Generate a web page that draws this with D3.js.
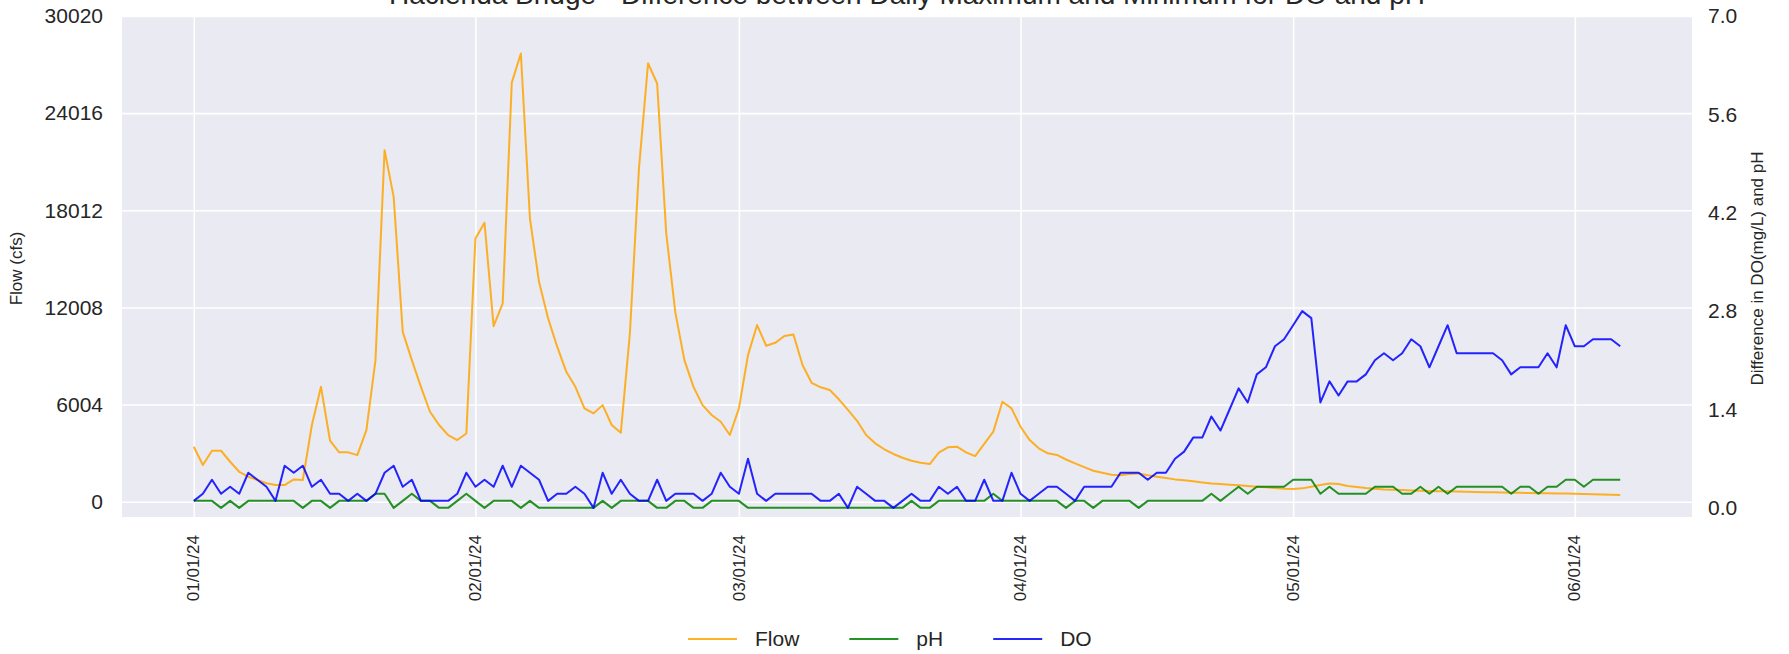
<!DOCTYPE html>
<html>
<head>
<meta charset="utf-8">
<script src="https://cdn.jsdelivr.net/npm/d3@7"></script>
<style>
  html, body { margin: 0; padding: 0; background: #fff; }
  svg { display: block; font-family: "Liberation Sans", Arial, Helvetica, sans-serif; }
</style>
</head>
<body>
<div id="chart"></div>
<script>
// ---- data (daily values) ----
const TITLE = 'Hacienda Bridge - Difference between Daily Maximum and Minimum for DO and pH'
const START_DATE = '2024-01-01'

const flow = [
  3400, 2270, 3150, 3150, 2470, 1850, 1545, 1340, 1140, 1030,
  1030, 1380, 1340, 4740, 7100, 3770, 3050, 3050, 2880, 4430,
  8750, 21730, 18840, 10500, 8750, 7100, 5560, 4740, 4120, 3810,
  4220, 16270, 17240, 10850, 12260, 25900, 27700, 17500, 13590, 11330,
  9580, 8030, 7100, 5770, 5460, 5970, 4740, 4260, 10400, 20600,
  27100, 25850, 16600, 11700, 8750, 7100, 5970, 5360, 4940, 4120,
  5770, 9060, 10920, 9640, 9820, 10240, 10340, 8450, 7350, 7070,
  6900, 6330, 5670, 5000, 4120, 3610, 3240, 2950, 2720, 2530,
  2410, 2330, 3030, 3360, 3400, 3050, 2820, 3570, 4330, 6180,
  5770, 4630, 3810, 3300, 2990, 2890, 2610, 2370, 2140, 1915,
  1790, 1670, 1630, 1710, 1750, 1630, 1545, 1460, 1380, 1320,
  1260, 1190, 1130, 1090, 1050, 1010, 970, 930, 890, 845,
  805, 785, 825, 930, 1030, 1130, 1090, 970, 905, 845,
  805, 760, 740, 720, 700, 680, 660, 650, 640, 625,
  615, 600, 590, 580, 570, 560, 550, 540, 530, 520,
  510, 500, 490, 475, 460, 450, 435, 420
]

const ph = [
  0.1, 0.1, 0.1, 0.0, 0.1, 0.0, 0.1, 0.1, 0.1, 0.1,
  0.1, 0.1, 0.0, 0.1, 0.1, 0.0, 0.1, 0.1, 0.1, 0.1,
  0.2, 0.2, 0.0, 0.1, 0.2, 0.1, 0.1, 0.0, 0.0, 0.1,
  0.2, 0.1, 0.0, 0.1, 0.1, 0.1, 0.0, 0.1, 0.0, 0.0,
  0.0, 0.0, 0.0, 0.0, 0.0, 0.1, 0.0, 0.1, 0.1, 0.1,
  0.1, 0.0, 0.0, 0.1, 0.1, 0.0, 0.0, 0.1, 0.1, 0.1,
  0.1, 0.0, 0.0, 0.0, 0.0, 0.0, 0.0, 0.0, 0.0, 0.0,
  0.0, 0.0, 0.0, 0.0, 0.0, 0.0, 0.0, 0.0, 0.0, 0.1,
  0.0, 0.0, 0.1, 0.1, 0.1, 0.1, 0.1, 0.1, 0.2, 0.1,
  0.1, 0.1, 0.1, 0.1, 0.1, 0.1, 0.0, 0.1, 0.1, 0.0,
  0.1, 0.1, 0.1, 0.1, 0.0, 0.1, 0.1, 0.1, 0.1, 0.1,
  0.1, 0.1, 0.2, 0.1, 0.2, 0.3, 0.2, 0.3, 0.3, 0.3,
  0.3, 0.4, 0.4, 0.4, 0.2, 0.3, 0.2, 0.2, 0.2, 0.2,
  0.3, 0.3, 0.3, 0.2, 0.2, 0.3, 0.2, 0.3, 0.2, 0.3,
  0.3, 0.3, 0.3, 0.3, 0.3, 0.2, 0.3, 0.3, 0.2, 0.3,
  0.3, 0.4, 0.4, 0.3, 0.4, 0.4, 0.4, 0.4
]

const dissolvedOxygen = [
  0.1, 0.2, 0.4, 0.2, 0.3, 0.2, 0.5, 0.4, 0.3, 0.1,
  0.6, 0.5, 0.6, 0.3, 0.4, 0.2, 0.2, 0.1, 0.2, 0.1,
  0.2, 0.5, 0.6, 0.3, 0.4, 0.1, 0.1, 0.1, 0.1, 0.2,
  0.5, 0.3, 0.4, 0.3, 0.6, 0.3, 0.6, 0.5, 0.4, 0.1,
  0.2, 0.2, 0.3, 0.2, 0.0, 0.5, 0.2, 0.4, 0.2, 0.1,
  0.1, 0.4, 0.1, 0.2, 0.2, 0.2, 0.1, 0.2, 0.5, 0.3,
  0.2, 0.7, 0.2, 0.1, 0.2, 0.2, 0.2, 0.2, 0.2, 0.1,
  0.1, 0.2, 0.0, 0.3, 0.2, 0.1, 0.1, 0.0, 0.1, 0.2,
  0.1, 0.1, 0.3, 0.2, 0.3, 0.1, 0.1, 0.4, 0.1, 0.1,
  0.5, 0.2, 0.1, 0.2, 0.3, 0.3, 0.2, 0.1, 0.3, 0.3,
  0.3, 0.3, 0.5, 0.5, 0.5, 0.4, 0.5, 0.5, 0.7, 0.8,
  1.0, 1.0, 1.3, 1.1, 1.4, 1.7, 1.5, 1.9, 2.0, 2.3,
  2.4, 2.6, 2.8, 2.7, 1.5, 1.8, 1.6, 1.8, 1.8, 1.9,
  2.1, 2.2, 2.1, 2.2, 2.4, 2.3, 2.0, 2.3, 2.6, 2.2,
  2.2, 2.2, 2.2, 2.2, 2.1, 1.9, 2.0, 2.0, 2.0, 2.2,
  2.0, 2.6, 2.3, 2.3, 2.4, 2.4, 2.4, 2.3
]

const flowTicks = [0, 6004, 12008, 18012, 24016, 30020]
const diffTicks = [0, 1.4, 2.8, 4.2, 5.6, 7.0]
const seriesNames = ['Flow', 'pH', 'DO']
const seriesColors = ['#FFA500', '#008000', '#0000FF']

// ---- layout ----
const WIDTH = 1789
const HEIGHT = 654
const MARGIN = { top: 16, right: 97, bottom: 137, left: 122 }
const innerW = WIDTH - MARGIN.left - MARGIN.right
const innerH = HEIGHT - MARGIN.top - MARGIN.bottom
const TEXT = '#262626'

const start = d3.utcParse('%Y-%m-%d')(START_DATE)
const dates = flow.map((_, i) => d3.utcDay.offset(start, i))
const rows = dates.map((d, i) => ({ date: d, flow: flow[i], ph: ph[i], do: dissolvedOxygen[i] }))

const svg = d3.select('#chart')
  .append('svg')
  .attr('width', WIDTH)
  .attr('height', HEIGHT)

const g = svg.append('g')
  .attr('transform', `translate(${MARGIN.left},${MARGIN.top})`)

// x scale with a small margin either side, like matplotlib
const pad = 7.9 * 864e5
const [d0, d1] = d3.extent(dates)
const x = d3.scaleUtc()
  .domain([new Date(+d0 - pad), new Date(+d1 + pad)])
  .range([0, innerW])

const yFlow = d3.scaleLinear()
  .domain([-945, 30020])
  .range([innerH, 0])

const yDiff = d3.scaleLinear()
  .domain([-0.13, 7.0])
  .range([innerH, 0])

// background
g.append('rect')
  .attr('width', innerW)
  .attr('height', innerH)
  .attr('fill', '#EAEAF2')

// gridlines
g.append('g')
  .call(d3.axisLeft(yFlow).tickValues(flowTicks).tickSize(-innerW).tickFormat(''))
  .call(sel => sel.select('.domain').remove())
  .call(sel => sel.selectAll('.tick line').attr('stroke', '#fff').attr('stroke-width', 1.6))

const monthTicks = d3.utcMonth.range(d3.utcMonth.ceil(x.domain()[0]), x.domain()[1])

g.append('g')
  .attr('transform', `translate(0,${innerH})`)
  .call(d3.axisBottom(x).tickValues(monthTicks).tickSize(-innerH).tickFormat(''))
  .call(sel => sel.select('.domain').remove())
  .call(sel => sel.selectAll('.tick line').attr('stroke', '#fff').attr('stroke-width', 1.6))

// left axis
g.append('g')
  .call(d3.axisLeft(yFlow).tickValues(flowTicks).tickSize(0).tickPadding(19).tickFormat(d3.format('d')))
  .call(sel => sel.select('.domain').remove())
  .call(sel => sel.selectAll('.tick text')
    .attr('fill', TEXT)
    .style('font-size', '21px'))

// right axis
g.append('g')
  .attr('transform', `translate(${innerW},0)`)
  .call(d3.axisRight(yDiff).tickValues(diffTicks).tickSize(0).tickPadding(16).tickFormat(d3.format('.1f')))
  .call(sel => sel.select('.domain').remove())
  .call(sel => sel.selectAll('.tick text')
    .attr('fill', TEXT)
    .style('font-size', '21px'))

// bottom axis, rotated date labels
g.append('g')
  .attr('transform', `translate(0,${innerH})`)
  .call(d3.axisBottom(x).tickValues(monthTicks).tickSize(0).tickFormat(d3.utcFormat('%m/%d/%y')))
  .call(sel => sel.select('.domain').remove())
  .call(sel => sel.selectAll('.tick text')
    .attr('transform', 'rotate(-90)')
    .attr('text-anchor', 'end')
    .attr('x', -18)
    .attr('y', 0)
    .attr('dy', '0.3em')
    .attr('fill', TEXT)
    .style('font-size', '17px'))

// lines
const flowLine = d3.line().x(d => x(d.date)).y(d => yFlow(d.flow))
const phLine = d3.line().x(d => x(d.date)).y(d => yDiff(d.ph))
const doLine = d3.line().x(d => x(d.date)).y(d => yDiff(d.do))

const lines = [flowLine, phLine, doLine]
lines.forEach((gen, i) => {
  g.append('path')
    .datum(rows)
    .attr('fill', 'none')
    .attr('stroke', seriesColors[i])
    .attr('stroke-opacity', 0.85)
    .attr('stroke-width', 2)
    .attr('stroke-linejoin', 'round')
    .attr('d', gen)
})

// title (sits partly above the top edge, as in the source)
svg.append('text')
  .attr('x', MARGIN.left + innerW / 2)
  .attr('y', 4)
  .attr('text-anchor', 'middle')
  .attr('fill', TEXT)
  .style('font-size', '28px')
  .text(TITLE)

// axis labels
svg.append('text')
  .attr('transform', `translate(16,${MARGIN.top + innerH / 2 + 2}) rotate(-90)`)
  .attr('text-anchor', 'middle')
  .attr('dy', '0.35em')
  .attr('fill', TEXT)
  .style('font-size', '17px')
  .text('Flow (cfs)')

svg.append('text')
  .attr('transform', `translate(1757,${MARGIN.top + innerH / 2 + 2}) rotate(-90)`)
  .attr('text-anchor', 'middle')
  .attr('dy', '0.35em')
  .attr('fill', TEXT)
  .style('font-size', '17px')
  .text('Difference in DO(mg/L) and pH')

// legend
const legend = svg.append('g').attr('transform', 'translate(688,639)')
let lx = 0
seriesNames.forEach((name, i) => {
  const item = legend.append('g').attr('transform', `translate(${lx},0)`)
  item.append('line')
    .attr('x1', 0).attr('x2', 49)
    .attr('stroke', seriesColors[i])
    .attr('stroke-opacity', 0.85)
    .attr('stroke-width', 2)
  const t = item.append('text')
    .attr('x', 67)
    .attr('dy', '0.35em')
    .attr('fill', TEXT)
    .style('font-size', '21px')
    .text(name)
  lx += 67 + t.node().getComputedTextLength() + 50
})
</script>
</body>
</html>
